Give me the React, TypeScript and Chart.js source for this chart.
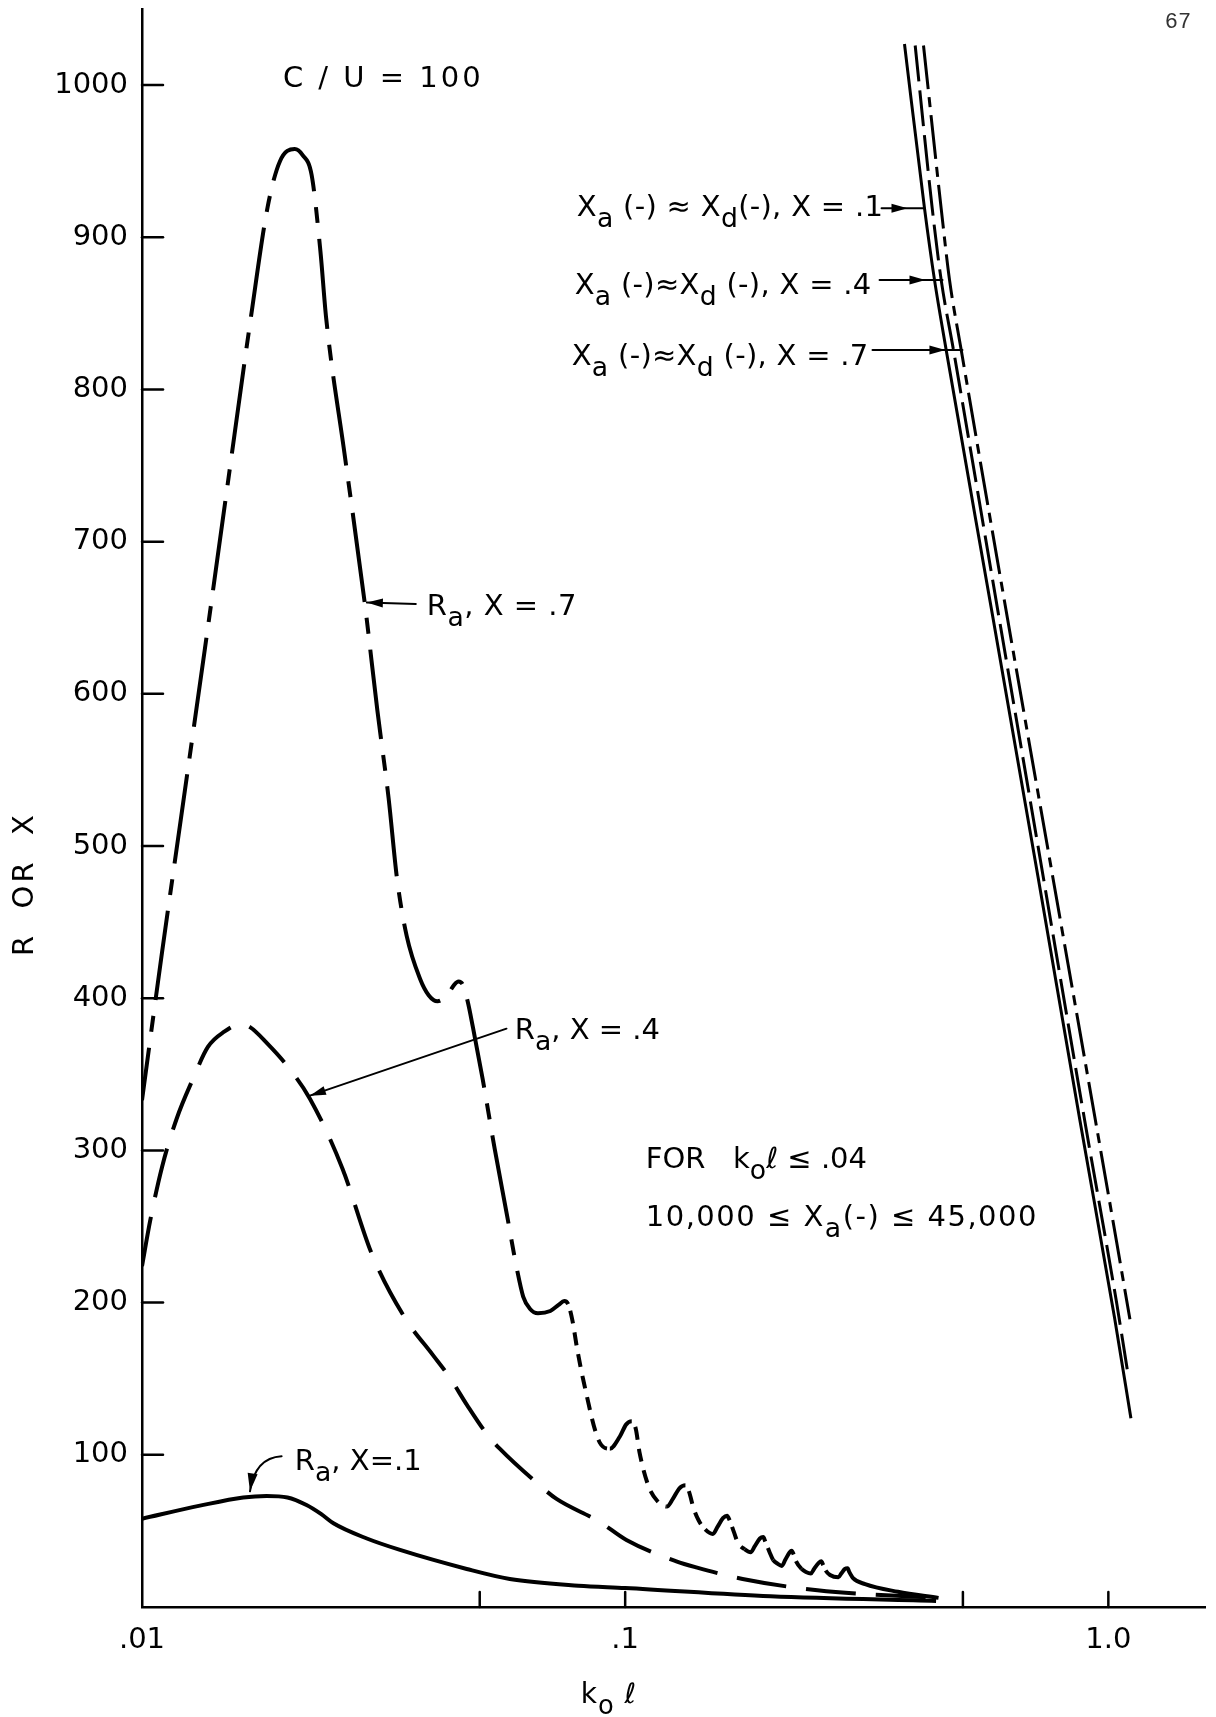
import React, { useEffect, useRef } from 'react';
import { Chart, registerables } from 'chart.js';

Chart.register(...registerables);

// ---------------- Data ----------------
// R_a, X = .7
const KL_RA_07 = [0.01, 0.011, 0.012, 0.0135, 0.015, 0.01683, 0.0182, 0.0193, 0.0207, 0.0215, 0.02244, 0.0234, 0.02405, 0.0263, 0.0289, 0.0307, 0.0324, 0.0337, 0.0353, 0.0376, 0.0392, 0.0409, 0.0428, 0.0443, 0.0452, 0.0461, 0.0472, 0.0484, 0.0507, 0.0537, 0.0569, 0.0597, 0.0615, 0.0635, 0.066, 0.07, 0.0728, 0.0748, 0.0762, 0.0778, 0.0795, 0.0818, 0.0886, 0.09295, 0.0975, 0.1005, 0.10318, 0.1052, 0.10702, 0.11159, 0.11635, 0.12195, 0.1255, 0.1295, 0.13327, 0.1355, 0.1385, 0.14189, 0.1464, 0.15185, 0.1555, 0.1595, 0.16251, 0.1645, 0.168, 0.17123, 0.17668, 0.18182, 0.1855, 0.19, 0.19307, 0.195, 0.199, 0.20236, 0.20663, 0.21099, 0.2145, 0.219, 0.22114, 0.2232, 0.22581, 0.23177, 0.23666, 0.24228, 0.246, 0.2515, 0.2546, 0.257, 0.25997, 0.26546, 0.27621, 0.28, 0.285, 0.28859, 0.291, 0.29623, 0.31377, 0.36689, 0.4452];
const RA_07 = [333, 430, 515, 630, 735, 849, 920, 950, 958, 954, 941, 891, 847, 756, 660, 589, 531, 479, 441, 413, 402, 398, 402, 409, 411, 409, 398, 381, 347, 301, 258, 222, 204, 196, 193, 194.5, 198.5, 201, 199, 188, 170, 150, 108, 104, 112, 120, 122, 117, 102, 80, 70, 66, 71, 78, 80, 76, 65, 57, 51, 48, 53, 58.5, 60, 57, 49, 42, 38, 36, 40, 45, 46, 43, 36, 31, 28.5, 27, 31, 36, 37, 34.5, 30, 25, 23, 22, 25, 29, 30, 27.5, 24, 21, 19.5, 22, 25, 25.5, 23, 19, 15, 10, 6];

// R_a, X = .4
const KL_RA_04 = [0.01, 0.0104, 0.011, 0.0118, 0.01275, 0.01369, 0.0148, 0.016, 0.01673, 0.0182, 0.01992, 0.02226, 0.026, 0.0299, 0.035, 0.0399, 0.0433, 0.047, 0.0519, 0.055, 0.0665, 0.0721, 0.0885, 0.1006, 0.1276, 0.1403, 0.175, 0.25, 0.44];
const RA_04 = [224, 254, 289, 321, 347, 368, 378, 383, 381, 370, 356, 334, 288, 232, 190, 166, 151, 133, 113, 104, 80, 71, 56, 44, 30, 26, 18.4, 11, 6];

// R_a, X = .1
const KL_RA_01 = [0.01, 0.01318, 0.0162, 0.0181, 0.02, 0.0219, 0.0235, 0.0249, 0.0292, 0.0342, 0.047, 0.0577, 0.08, 0.1, 0.2, 0.44];
const RA_01 = [58, 66.6, 72, 73, 72, 67, 61, 55, 45, 37.5, 25, 18.4, 14, 12.5, 7, 4];

// X_a(-) ≈ X_d(-), X = .1 / .4 / .7
const KL_XA_01 = [0.3785, 0.4164, 0.4367, 0.4617, 0.577, 0.715, 0.873, 1.03, 1.1135];
const XA_01 = [1027, 919, 872, 826, 650, 480, 320, 190, 124];
const KL_XA_04 = [0.3983, 0.432, 0.4508, 0.478, 0.594, 0.733, 0.893, 1.04, 1.0968];
const XA_04 = [1026, 919, 872, 826, 650, 480, 320, 200, 154];
const KL_XA_07 = [0.4144, 0.4508, 0.4691, 0.496, 0.618, 0.767, 0.94, 1.04, 1.1083];
const XA_07 = [1026, 919, 872, 826, 650, 480, 320, 240, 189];

// Axes
const X_MIN = 0.01;
const X_MAX = 1.585;
const Y_MIN = 0;
const Y_MAX = 1050;
const X_TICKS = [0.01, 0.05, 0.1, 0.5, 1.0];
const X_TICK_LABELS = ['.01', '', '.1', '', '1.0'];
const Y_TICKS = [100, 200, 300, 400, 500, 600, 700, 800, 900, 1000];

// ---------------- Annotations (positions in data units) ----------------
type Run = { t: string; sub?: boolean };
const RA = (rest: string): Run[] => [{ t: 'R' }, { t: 'a', sub: true }, { t: rest }];
const XAXD = (mid: string, tail: string): Run[] => [
  { t: 'X' }, { t: 'a', sub: true }, { t: mid }, { t: 'd', sub: true }, { t: tail },
];

const TEXT_LABELS: { kl: number; v: number; runs: Run[]; sp: number }[] = [
  { kl: 0.01957, v: 1006, runs: [{ t: 'C / U = 100' }], sp: 3 },
  { kl: 0.0794, v: 921, runs: XAXD(' (-) ≈ X', '(-), X = .1'), sp: 0.3 },
  { kl: 0.0786, v: 870, runs: XAXD(' (-)≈X', ' (-), X = .4'), sp: 0.3 },
  { kl: 0.0775, v: 823, runs: XAXD(' (-)≈X', ' (-), X = .7'), sp: 0.3 },
  { kl: 0.03886, v: 659, runs: RA(', X = .7'), sp: 0.5 },
  { kl: 0.0591, v: 380, runs: RA(', X = .4'), sp: 0 },
  { kl: 0.02072, v: 97, runs: RA(', X=.1'), sp: 0 },
  { kl: 0.1103, v: 295.5, runs: [{ t: 'FOR   k' }, { t: 'o', sub: true }, { t: 'ℓ ≤ .04' }], sp: 0 },
  { kl: 0.1103, v: 257, runs: [{ t: '10,000 ≤ X' }, { t: 'a', sub: true }, { t: '(-) ≤ 45,000' }], sp: 1.5 },
];

const ARROWS: { from: [number, number]; to: [number, number]; back: number }[] = [
  { from: [0.3393, 919], to: [0.4164, 919], back: 17 },
  { from: [0.3361, 872], to: [0.4537, 872], back: 17 },
  { from: [0.325, 826], to: [0.4989, 826], back: 17 },
  { from: [0.03687, 659], to: [0.0292, 660], back: 0 },
  { from: [0.0568, 380], to: [0.02226, 336], back: 0 },
];
const CURVED_ARROW = { from: [0.01945, 99], ctrl: [0.01713, 98], to: [0.01673, 76] };

const FONT = '"DejaVu Sans", "Liberation Sans", sans-serif';
const TEXT_SIZE = 29;

function drawRuns(ctx: CanvasRenderingContext2D, runs: Run[], x: number, yMid: number, size: number, spacing: number) {
  let cx = x;
  const base = yMid + size * 0.365;
  ctx.textBaseline = 'alphabetic';
  ctx.textAlign = 'left';
  for (const r of runs) {
    const s = r.sub ? size * 0.92 : size;
    ctx.font = `${s}px ${FONT}`;
    (ctx as any).letterSpacing = `${spacing}px`;
    ctx.fillText(r.t, cx, r.sub ? base + size * 0.38 : base);
    cx += ctx.measureText(r.t).width;
  }
  (ctx as any).letterSpacing = '0px';
  return cx;
}

function head(ctx: CanvasRenderingContext2D, tx: number, ty: number, ang: number, len: number, w: number) {
  ctx.beginPath();
  ctx.moveTo(tx, ty);
  ctx.lineTo(tx - Math.cos(ang) * len - Math.sin(ang) * w, ty - Math.sin(ang) * len + Math.cos(ang) * w);
  ctx.lineTo(tx - Math.cos(ang) * len + Math.sin(ang) * w, ty - Math.sin(ang) * len - Math.cos(ang) * w);
  ctx.closePath();
  ctx.fill();
}

const annotationPlugin = {
  id: 'annotations',
  afterDraw(chart: any) {
    const { ctx, chartArea } = chart;
    const xs = chart.scales.x;
    const ys = chart.scales.y;
    const px = (v: number) => xs.getPixelForValue(v);
    const py = (v: number) => ys.getPixelForValue(v);
    ctx.save();
    ctx.fillStyle = '#000';
    ctx.strokeStyle = '#000';
    ctx.lineCap = 'round';

    // inner tick marks
    ctx.lineWidth = 2.5;
    Y_TICKS.forEach((v) => {
      const y = py(v);
      ctx.beginPath();
      ctx.moveTo(chartArea.left, y);
      ctx.lineTo(chartArea.left + 21, y);
      ctx.stroke();
    });
    X_TICKS.slice(1).forEach((v) => {
      const x = px(v);
      ctx.beginPath();
      ctx.moveTo(x, chartArea.bottom);
      ctx.lineTo(x, chartArea.bottom - 15);
      ctx.stroke();
    });

    // text labels
    TEXT_LABELS.forEach((l) => drawRuns(ctx, l.runs, px(l.kl), py(l.v), TEXT_SIZE, l.sp));

    // arrows
    ctx.lineWidth = 2;
    ARROWS.forEach((a) => {
      const x1 = px(a.from[0]), y1 = py(a.from[1]);
      const x2 = px(a.to[0]), y2 = py(a.to[1]);
      ctx.beginPath();
      ctx.moveTo(x1, y1);
      ctx.lineTo(x2, y2);
      ctx.stroke();
      const ang = Math.atan2(y2 - y1, x2 - x1);
      head(ctx, x2 - Math.cos(ang) * a.back, y2 - Math.sin(ang) * a.back, ang, 16, 4.5);
    });
    {
      const x1 = px(CURVED_ARROW.from[0]), y1 = py(CURVED_ARROW.from[1]);
      const cx = px(CURVED_ARROW.ctrl[0]), cy = py(CURVED_ARROW.ctrl[1]);
      const x2 = px(CURVED_ARROW.to[0]), y2 = py(CURVED_ARROW.to[1]);
      ctx.beginPath();
      ctx.moveTo(x1, y1);
      ctx.quadraticCurveTo(cx, cy, x2, y2);
      ctx.stroke();
      head(ctx, x2, y2, Math.atan2(y2 - cy, x2 - cx), 18, 5);
    }

    // axis titles
    ctx.save();
    ctx.translate(chartArea.left - 117, py(475));
    ctx.rotate(-Math.PI / 2);
    ctx.font = `29px ${FONT}`;
    (ctx as any).letterSpacing = '3px';
    ctx.textAlign = 'center';
    ctx.textBaseline = 'middle';
    ctx.fillText('R  OR  X', 0, 0);
    (ctx as any).letterSpacing = '0px';
    ctx.restore();

    drawRuns(ctx, [{ t: 'k' }, { t: 'o', sub: true }, { t: ' ℓ' }], px(0.0809), chartArea.bottom + 86, 28, 1);

    // page number
    ctx.font = '22px "Liberation Mono", "DejaVu Sans Mono", monospace';
    ctx.fillStyle = '#333';
    ctx.textAlign = 'center';
    ctx.textBaseline = 'middle';
    ctx.fillText('67', chart.width - 38, 22);
    ctx.restore();
  },
};

const zip = (xs: number[], ys: number[]) => xs.map((x, i) => ({ x, y: ys[i] }));

// In the ripple region of R_a (X = .7) the rises and crests are solid and the
// steep falls between them are drawn with short dashes; the final tail is solid.
const rippleDash = (c: any) => {
  if (c.p0.parsed.x < 0.0755) return undefined;
  if (c.p0.parsed.x >= 0.29) return [];
  return c.p0.parsed.y - c.p1.parsed.y > 3 ? [13, 9] : [];
};

export default function App() {
  const ref = useRef<HTMLCanvasElement | null>(null);
  useEffect(() => {
    document.body.style.margin = '0';
    const canvas = ref.current!;
    const lineBase = {
      borderColor: '#000',
      pointRadius: 0,
      fill: false,
      cubicInterpolationMode: 'monotone' as const,
    };
    const chart = new Chart(canvas, {
      type: 'line',
      data: {
        datasets: [
          {
            ...lineBase,
            label: 'Ra, X=.7',
            data: zip(KL_RA_07, RA_07),
            borderWidth: 4,
            borderDash: [90, 16, 16, 16],
            borderDashOffset: 37,
            segment: { borderDash: rippleDash },
          },
          { ...lineBase, label: 'Ra, X=.4', data: zip(KL_RA_04, RA_04), borderWidth: 4, borderDash: [50, 20] },
          { ...lineBase, label: 'Ra, X=.1', data: zip(KL_RA_01, RA_01), borderWidth: 4 },
          { ...lineBase, label: 'Xa, X=.1', data: zip(KL_XA_01, XA_01), borderWidth: 3 },
          { ...lineBase, label: 'Xa, X=.4', data: zip(KL_XA_04, XA_04), borderWidth: 3, borderDash: [36, 9] },
          { ...lineBase, label: 'Xa, X=.7', data: zip(KL_XA_07, XA_07), borderWidth: 3, borderDash: [44, 8, 10, 8] },
        ],
      },
      options: {
        animation: false,
        responsive: false,
        maintainAspectRatio: false,
        layout: { padding: { top: 9, right: 11, left: 0, bottom: 0 } },
        plugins: { legend: { display: false }, tooltip: { enabled: false } },
        scales: {
          x: {
            type: 'logarithmic',
            min: X_MIN,
            max: X_MAX,
            grid: { display: false, drawTicks: false },
            border: { display: true, color: '#000', width: 2.5 },
            ticks: {
              color: '#000',
              font: { family: FONT, size: 29 },
              padding: 16,
              maxRotation: 0,
              autoSkip: false,
              callback: (_v: any, i: number) => X_TICK_LABELS[i] ?? '',
            },
            afterBuildTicks: (s: any) => {
              s.ticks = X_TICKS.map((value) => ({ value }));
            },
            afterFit: (s: any) => {
              s.height = 110;
              s.paddingLeft = 0;
              s.paddingRight = 0;
            },
          },
          y: {
            type: 'linear',
            min: Y_MIN,
            max: Y_MAX,
            grid: { display: false, drawTicks: false },
            border: { display: true, color: '#000', width: 2.5 },
            ticks: {
              color: '#000',
              font: { family: FONT, size: 29 },
              padding: 14,
              autoSkip: false,
              callback: (v: any) => String(v),
            },
            afterBuildTicks: (s: any) => {
              s.ticks = Y_TICKS.map((value) => ({ value }));
            },
            afterFit: (s: any) => {
              s.width = 142;
              s.paddingTop = 0;
              s.paddingBottom = 0;
            },
          },
        },
      },
      plugins: [annotationPlugin],
    });
    return () => chart.destroy();
  }, []);
  return (
    <div style={{ width: 1216, height: 1717, background: '#fff' }}>
      <canvas ref={ref} width={1216} height={1717} style={{ display: 'block' }} />
    </div>
  );
}
